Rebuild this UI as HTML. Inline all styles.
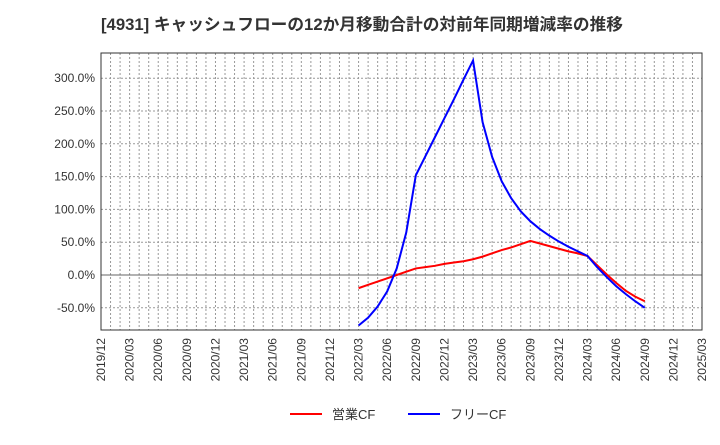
<!DOCTYPE html>
<html><head><meta charset="utf-8"><style>
body{margin:0;background:#fff;}
svg text{font-family:"Liberation Sans","Noto Sans CJK JP",sans-serif;}
</style></head><body>
<svg id="c" width="720" height="440" xmlns="http://www.w3.org/2000/svg">
<text x="101" y="30" font-size="16.7" font-weight="bold" fill="#333">[4931]  キャッシュフローの12か月移動合計の対前年同期増減率の推移</text>
<g id="grid"></g><g id="axes"></g><g id="series"></g>
<g>
<line x1="290" y1="414" x2="322" y2="414" stroke="#ff0000" stroke-width="2"/>
<text x="332" y="419" font-size="13" fill="#333">営業CF</text>
<line x1="408" y1="414" x2="440" y2="414" stroke="#0000ff" stroke-width="2"/>
<text x="450" y="419" font-size="13" fill="#333">フリーCF</text>
</g>
</svg>
<script>
const yTicks=[-50,0,50,100,150,200,250,300];
const xLabels=["2019/12","2020/03","2020/06","2020/09","2020/12","2021/03","2021/06","2021/09","2021/12","2022/03","2022/06","2022/09","2022/12","2023/03","2023/06","2023/09","2023/12","2024/03","2024/06","2024/09","2024/12","2025/03"];
const startMonth=27; // 2022/03 months after 2019/12
const operatingCF=[-20,-15,-10,-5,0,5,10,12,14,17,19,21,24,28,33,38,42,47,52,48,44,40,36,33,29,15,1,-12,-24,-33,-40];
const freeCF=[-77,-65,-48,-25,10,65,152,181,210,239,268,298,327,233,180,143,117,97,82,70,60,51,43,36,29,12,-3,-17,-29,-40,-50];
const L=101,R=702,T=53,B=330,totalMonths=63;
const X=m=>L+(R-L)*m/totalMonths;
const Y=v=>275-v*32.8/50;
const ns="http://www.w3.org/2000/svg";
function mk(p,t,a){const e=document.createElementNS(ns,t);for(const k in a)e.setAttribute(k,a[k]);document.getElementById(p).appendChild(e);return e;}
for(let m=1;m<totalMonths;m++){const l=mk('grid','line',{x1:X(m),x2:X(m),y1:T,y2:B,stroke:'#999','stroke-dasharray':'2,2','stroke-width':1});

}
yTicks.forEach(v=>{const l=mk('grid','line',{x1:L,x2:R,y1:Y(v),y2:Y(v),stroke:v===0?'#666':'#999','stroke-dasharray':v===0?'':'2,2'});


const t=mk('axes','text',{x:L-6,y:Y(v)+4,'text-anchor':'end','font-size':12,fill:'#333'});t.textContent=v.toFixed(1)+'%';

});
const fr=mk('axes','rect',{x:L,y:T,width:R-L,height:B-T,fill:'none',stroke:'#333'});


xLabels.forEach((s,i)=>{const x=X(i*3),y=B+8;const t=mk('axes','text',{x:x+4,y:y,'text-anchor':'end','font-size':12,fill:'#333',transform:`rotate(-90 ${x+4} ${y})`});t.textContent=s;

});
function line(d,c,n){const p=mk('series','polyline',{points:d.map((v,i)=>X(startMonth+i)+','+Y(v)).join(' '),fill:'none',stroke:c,'stroke-width':2});

}
line(operatingCF,'#ff0000','operating-cf-line');
line(freeCF,'#0000ff','free-cf-line');
</script>
</body></html>
